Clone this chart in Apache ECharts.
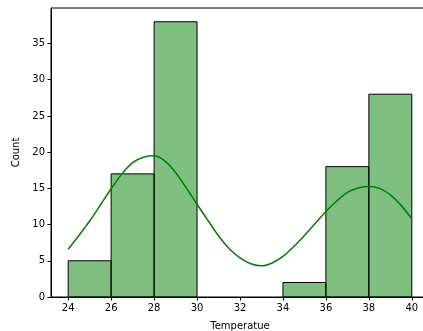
<!DOCTYPE html>
<html>
<head>
<meta charset="utf-8">
<script src="https://cdn.jsdelivr.net/npm/echarts@6/dist/echarts.min.js"></script>
<style>
html,body{margin:0;padding:0;background:#fff;}
#chart{width:423px;height:331px;}
</style>
</head>
<body>
<div id="chart"></div>
<script>
// histogram bins (width 2) and counts
const binEdges = [24, 26, 28, 30, 32, 34, 36, 38, 40]
const counts = [5, 17, 38, 0, 0, 2, 18, 28]
// kde curve
const kdeX = [24, 24.5, 25, 25.5, 26, 26.5, 27, 27.5, 28, 28.5, 29, 29.5, 30, 30.5, 31, 31.5, 32, 32.5, 33, 33.5, 34, 34.5, 35, 35.5, 36, 36.5, 37, 37.5, 38, 38.5, 39, 39.5, 40]
const kdeY = [6.6, 8.5, 10.5, 12.7, 14.95, 17.0, 18.55, 19.3, 19.5, 18.8, 17.2, 15.05, 12.8, 10.6, 8.45, 6.65, 5.4, 4.6, 4.3, 4.7, 5.6, 6.95, 8.5, 10.15, 11.8, 13.25, 14.45, 15.05, 15.25, 15.0, 14.1, 12.65, 10.8]
const xTicks = [24, 26, 28, 30, 32, 34, 36, 38, 40]
const yTicks = [0, 5, 10, 15, 20, 25, 30, 35]

const bars = counts.map((c, i) => [binEdges[i], binEdges[i + 1], c]).filter(d => d[2] > 0)
const kde = kdeX.map((x, i) => [x, kdeY[i]])

const font = { fontFamily: 'DejaVu Sans', fontSize: 10, color: '#000' }
const chart = echarts.init(document.getElementById('chart'))
chart.setOption({
    animation: false,
    grid: {
        left: 51, right: -6, top: 8, bottom: 34,
        outerBoundsMode: 'none', containLabel: false,
        show: true, borderColor: '#000', borderWidth: 1
    },
    xAxis: {
        type: 'value', min: 23.2, max: 40.8,
        name: 'Temperatue', nameLocation: 'middle', nameGap: 24,
        nameTextStyle: font,
        axisLine: { onZero: false, lineStyle: { color: '#000', width: 1 } },
        axisTick: { show: true, length: 3.5, lineStyle: { color: '#000' }, customValues: xTicks },
        axisLabel: Object.assign({ margin: 6, customValues: xTicks }, font),
        splitLine: { show: false }
    },
    yAxis: {
        type: 'value', min: 0, max: 39.9,
        name: 'Count', nameLocation: 'middle', nameGap: 27,
        nameTextStyle: font,
        axisLine: { show: true, lineStyle: { color: '#000', width: 1 } },
        axisTick: { show: true, length: 3.5, lineStyle: { color: '#000' }, customValues: yTicks },
        axisLabel: Object.assign({ margin: 6, customValues: yTicks }, font),
        splitLine: { show: false }
    },
    series: [
        {
            type: 'custom',
            data: bars,
            encode: { x: [0, 1], y: 2 },
            renderItem: (params, api) => {
                const p0 = api.coord([api.value(0), api.value(2)])
                const p1 = api.coord([api.value(1), 0])
                return {
                    type: 'rect',
                    shape: { x: p0[0], y: p0[1], width: p1[0] - p0[0], height: p1[1] - p0[1] },
                    style: { fill: 'rgba(0,128,0,0.5)', stroke: '#000', lineWidth: 1 }
                }
            }
        },
        {
            type: 'line',
            data: kde,
            smooth: 0.3,
            symbol: 'none',
            lineStyle: { color: '#008000', width: 1.5 },
            z: 3
        }
    ]
})
</script>
</body>
</html>
